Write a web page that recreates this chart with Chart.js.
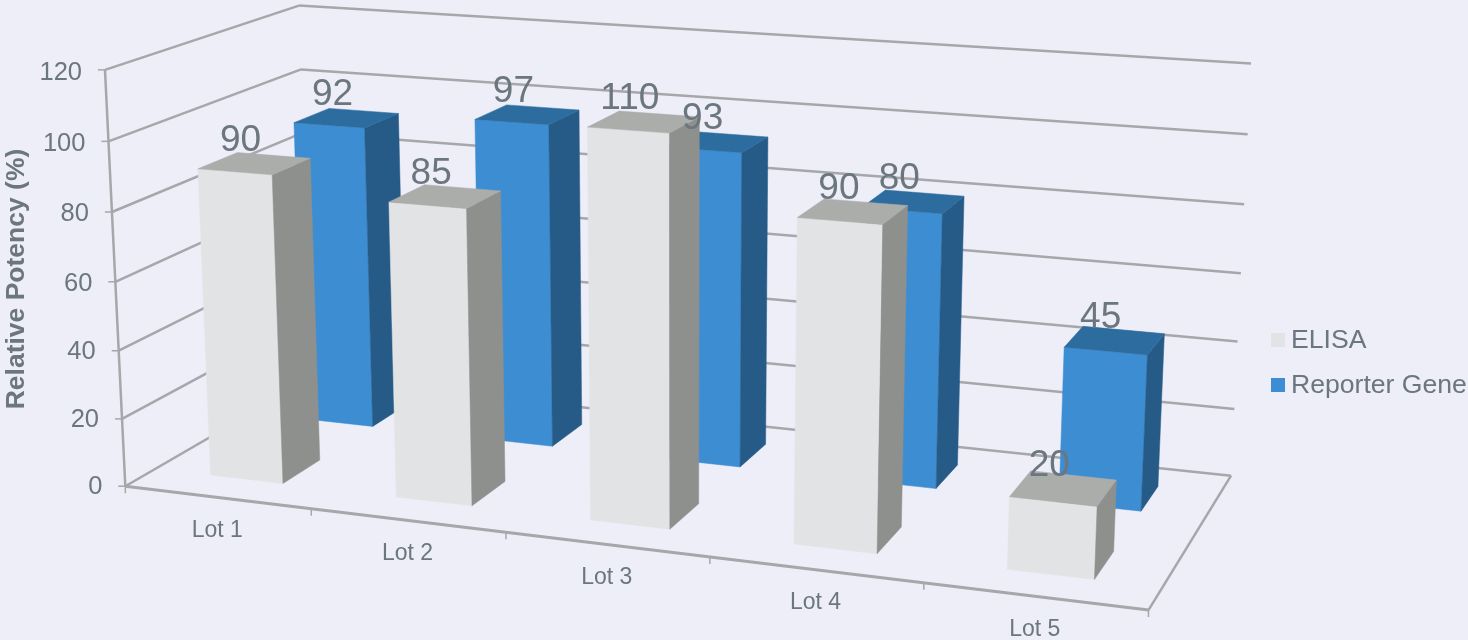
<!DOCTYPE html>
<html>
<head>
<meta charset="utf-8">
<title>Relative Potency</title>
<script src="https://cdn.jsdelivr.net/npm/chart.js@4/dist/chart.umd.min.js"></script>
<style>
    html, body { margin: 0; padding: 0; background: #edeef8; overflow: hidden; }
    canvas { display: block; }
</style>
</head>
<body>
<canvas id="potencyChart" width="1468" height="640"></canvas>
<script>
// Chart values
const lots = ['Lot 1', 'Lot 2', 'Lot 3', 'Lot 4', 'Lot 5'];
const elisaValues = [90, 85, 110, 90, 20];
const reporterValues = [92, 97, 93, 80, 45];
const seriesNames = ['ELISA', 'Reporter Gene'];
const yAxisTitle = 'Relative Potency (%)';

// Colours of a column's three visible faces
const faces = [
    { front: '#e2e3e5', side: '#8e908e', top: '#abadab' },
    { front: '#3d8dd3', side: '#265b87', top: '#2c6c9f' }
];
// Where each series row sits on the floor, 0 = front edge, 1 = back wall
const rowDepth = [[0.15, 0.35], [0.655, 0.855]];

const lineColor = '#a6a7aa';
const textColor = '#6b767f';
const fontFamily = '"Liberation Sans", Arial, sans-serif';

// Box corners as [across, deep, up, screenX, screenY], used to solve the camera
const cameraAnchors = [
    [0, 0, 1, 104, 71], [0, 0, 0.5, 115, 280], [0, 0, 0, 126, 485],
    [0, 1, 1, 300, 5], [0, 1, 5 / 6, 301, 70], [0, 1, 0, 310, 380],
    [1, 1, 1, 1251, 64], [1, 1, 0.5, 1241, 272], [1, 1, 0, 1231, 475],
    [0.2, 0, 0, 312, 508], [0.4, 0, 0, 506, 533], [0.6, 0, 0, 710, 558],
    [0.8, 0, 0, 924, 584], [1, 0, 0, 1148, 610]
];

// Least squares fit of an 11 parameter projective camera
function solveCamera(anchors) {
    const n = 11;
    const ata = Array.from({ length: n }, () => new Array(n + 1).fill(0));
    const addRow = (row, rhs) => {
        for (let i = 0; i < n; i++) {
            for (let j = 0; j < n; j++) ata[i][j] += row[i] * row[j];
            ata[i][n] += row[i] * rhs;
        }
    };
    anchors.forEach(([u, v, h, px, py]) => {
        const x = px / 1000;
        const y = py / 1000;
        addRow([u, v, h, 1, 0, 0, 0, 0, -x * u, -x * v, -x * h], x);
        addRow([0, 0, 0, 0, u, v, h, 1, -y * u, -y * v, -y * h], y);
    });
    for (let c = 0; c < n; c++) {
        let pivot = c;
        for (let r = c + 1; r < n; r++) {
            if (Math.abs(ata[r][c]) > Math.abs(ata[pivot][c])) pivot = r;
        }
        [ata[c], ata[pivot]] = [ata[pivot], ata[c]];
        for (let r = 0; r < n; r++) {
            if (r === c) continue;
            const f = ata[r][c] / ata[c][c];
            for (let k = c; k <= n; k++) ata[r][k] -= f * ata[c][k];
        }
    }
    return ata.map((row, i) => row[n] / row[i]);
}

const cam = solveCamera(cameraAnchors);

function project(u, v, h) {
    const w = cam[8] * u + cam[9] * v + cam[10] * h + 1;
    return {
        x: 1000 * (cam[0] * u + cam[1] * v + cam[2] * h + cam[3]) / w,
        y: 1000 * (cam[4] * u + cam[5] * v + cam[6] * h + cam[7]) / w
    };
}

function polygon(ctx, points, fill) {
    ctx.beginPath();
    points.forEach((p, i) => (i ? ctx.lineTo(p.x, p.y) : ctx.moveTo(p.x, p.y)));
    ctx.closePath();
    ctx.fillStyle = fill;
    ctx.fill();
    // thin same-colour stroke closes the seams between faces
    ctx.strokeStyle = fill;
    ctx.lineWidth = 0.5;
    ctx.stroke();
}

function segment(ctx, a, b, width) {
    ctx.beginPath();
    ctx.moveTo(a.x, a.y);
    ctx.lineTo(b.x, b.y);
    ctx.lineWidth = width;
    ctx.strokeStyle = lineColor;
    ctx.stroke();
}

function drawFrame(ctx, xScale, yScale) {
    const heightOf = (value) => (yScale.bottom - yScale.getPixelForValue(value)) / yScale.height;

    // gridlines run along the left wall, then along the back wall
    yScale.ticks.forEach((tick) => {
        const h = heightOf(tick.value);
        const front = project(0, 0, h);
        const corner = project(0, 1, h);
        const end = project(1, 1, h);
        segment(ctx, front, corner, 2.5);
        segment(ctx, corner, end, 2.5);
        segment(ctx, { x: front.x - 7, y: front.y }, front, 1.5);

        ctx.fillStyle = textColor;
        ctx.font = '25.5px ' + fontFamily;
        ctx.textAlign = 'right';
        ctx.textBaseline = 'middle';
        ctx.fillText(tick.label, front.x - 23, front.y + 1 + 2 * h);
    });
    segment(ctx, project(0, 0, 0), project(0, 0, 1), 2.5);

    // floor outline
    segment(ctx, project(0, 0, 0), project(1, 0, 0), 3);
    segment(ctx, project(1, 0, 0), project(1, 1, 0), 2.5);

    // category ticks sit on slot boundaries, labels in the middle of a slot
    const count = xScale.getLabels().length;
    for (let i = 0; i <= count; i++) {
        const p = project(i / count, 0, 0);
        segment(ctx, p, { x: p.x, y: p.y + 7 }, 1.5);
    }
    xScale.getLabels().forEach((label, i) => {
        const u = (xScale.getPixelForValue(i) - xScale.left) / xScale.width;
        const p = project(u, 0, 0);
        ctx.fillStyle = textColor;
        ctx.font = '23px ' + fontFamily;
        ctx.textAlign = 'center';
        ctx.textBaseline = 'middle';
        ctx.fillText(label, p.x, p.y + 33);
    });
}

function drawColumns(ctx, chart, xScale, yScale) {
    const labels = [];

    // back row first so the front row covers it
    [1, 0].forEach((index) => {
        const meta = chart.getDatasetMeta(index);
        const [v0, v1] = rowDepth[index];
        const colors = faces[index];
        meta.data.forEach((bar, i) => {
            const props = bar.getProps(['x', 'y', 'width']);
            const u0 = (props.x - props.width / 2 - xScale.left) / xScale.width;
            const u1 = (props.x + props.width / 2 - xScale.left) / xScale.width;
            const h = (yScale.bottom - props.y) / yScale.height;

            polygon(ctx, [project(u0, v0, 0), project(u1, v0, 0), project(u1, v0, h), project(u0, v0, h)], colors.front);
            polygon(ctx, [project(u1, v0, 0), project(u1, v1, 0), project(u1, v1, h), project(u1, v0, h)], colors.side);
            polygon(ctx, [project(u0, v0, h), project(u1, v0, h), project(u1, v1, h), project(u0, v1, h)], colors.top);

            const center = project((u0 + u1) / 2, (v0 + v1) / 2, h);
            labels.push({ text: String(chart.data.datasets[index].data[i]), x: center.x - 14, y: center.y - 23 });
        });
    });

    ctx.fillStyle = textColor;
    ctx.font = '37px ' + fontFamily;
    ctx.textAlign = 'center';
    ctx.textBaseline = 'middle';
    labels.forEach((l) => ctx.fillText(l.text, l.x, l.y));
}

function drawLegendAndTitle(ctx, chart) {
    ctx.fillStyle = textColor;
    ctx.font = 'bold 26.5px ' + fontFamily;
    ctx.textAlign = 'center';
    ctx.textBaseline = 'middle';
    ctx.save();
    ctx.translate(16.5, 279);
    ctx.rotate(-Math.PI / 2);
    ctx.fillText(yAxisTitle, 0, 0);
    ctx.restore();

    chart.data.datasets.forEach((dataset, i) => {
        const y = 340 + i * 45;
        ctx.fillStyle = dataset.backgroundColor;
        ctx.fillRect(1271, y - 7, 14, 14);
        ctx.fillStyle = textColor;
        ctx.font = '26.6px ' + fontFamily;
        ctx.textAlign = 'left';
        ctx.fillText(dataset.label, 1291, y + 1);
    });
}

// The scales stay hidden; their pixels are carried through the camera here
const perspectiveColumns = {
    id: 'perspectiveColumns',
    beforeDatasetsDraw(chart) {
        const ctx = chart.ctx;
        const xScale = chart.scales.x;
        const yScale = chart.scales.y;
        ctx.save();
        ctx.lineCap = 'butt';
        drawFrame(ctx, xScale, yScale);
        drawColumns(ctx, chart, xScale, yScale);
        drawLegendAndTitle(ctx, chart);
        ctx.restore();
        return false;
    }
};

new Chart(document.getElementById('potencyChart'), {
    type: 'bar',
    data: {
        labels: lots,
        datasets: [
            { label: seriesNames[0], data: elisaValues, backgroundColor: faces[0].front },
            { label: seriesNames[1], data: reporterValues, backgroundColor: faces[1].front }
        ]
    },
    options: {
        responsive: false,
        animation: false,
        layout: { padding: 0 },
        datasets: { bar: { grouped: false, categoryPercentage: 1, barPercentage: 0.395 } },
        plugins: { legend: { display: false }, tooltip: { enabled: false } },
        scales: {
            x: { display: false },
            y: { display: false, min: 0, max: 120, ticks: { stepSize: 20 } }
        }
    },
    plugins: [perspectiveColumns]
});
</script>
</body>
</html>
